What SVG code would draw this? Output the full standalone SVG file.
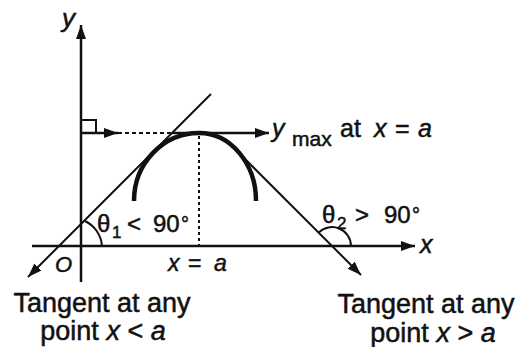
<svg xmlns="http://www.w3.org/2000/svg" width="520" height="347" viewBox="0 0 520 347">
<style>
  .ln{stroke:#111;fill:none;stroke-linecap:butt}
  .ax{stroke-width:2.5}
  .tg{stroke-width:2}
  .dash{stroke-width:2;stroke-dasharray:4 3}
  .dot{stroke-width:2;stroke-dasharray:3 3}
  .crv{stroke-width:4.5}
  text{font-family:"Liberation Sans",Arial,sans-serif;fill:#111;stroke:#111;stroke-width:0.5}
  .it{font-style:italic}
</style>
<defs>
  <marker id="ah" markerUnits="userSpaceOnUse" markerWidth="16" markerHeight="12" refX="14" refY="5" orient="auto">
    <path d="M0,0 L14,5 L0,10 z" fill="#111"/>
  </marker>
</defs>
<rect width="520" height="347" fill="#fff"/>

<g id="connectors">
  <!-- axes -->
  <line class="ln ax" x1="81" y1="282" x2="81" y2="25" marker-end="url(#ah)"/>
  <line class="ln ax" x1="32" y1="246" x2="415" y2="246" marker-end="url(#ah)"/>
  <!-- right angle mark -->
  <path class="ln" stroke-width="2" d="M81,120 H96 V133"/>
  <!-- horizontal line at y max -->
  <line class="ln ax" x1="81" y1="133" x2="118" y2="133" marker-end="url(#ah)"/>
  <line class="ln dash" x1="118" y1="133" x2="172" y2="133"/>
  <line class="ln ax" x1="172" y1="133" x2="269" y2="133" marker-end="url(#ah)"/>
  <!-- dotted vertical at x = a -->
  <line class="ln dot" x1="199" y1="136" x2="199" y2="246"/>
  <!-- tangents -->
  <line class="ln tg" x1="211" y1="94" x2="28" y2="277" marker-end="url(#ah)"/>
  <line class="ln tg" x1="236" y1="150" x2="361" y2="275" marker-end="url(#ah)"/>
  <!-- angle arcs -->
  <path class="ln" stroke-width="2" d="M102,246 A30,30 0 0 0 85,221"/>
  <path class="ln" stroke-width="2" d="M351,246 A19,19 0 0 0 318.6,232.6"/>
</g>

<g id="curve">
  <path class="ln crv" d="M134,201 A65,68 0 0 1 199,133 A57,68 0 0 1 256,201"/>
</g>

<g id="label-y-axis"><text class="it" x="62" y="27" font-size="26">y</text></g>
<g id="label-x-axis"><text class="it" x="420" y="253" font-size="25">x</text></g>
<g id="label-origin"><text class="it" x="55" y="272" font-size="22">O</text></g>

<g id="label-ymax">
  <text font-size="25"><tspan class="it" x="272" y="137">y</tspan><tspan x="292" y="146" font-size="21">max</tspan><tspan x="340" y="137">at</tspan><tspan class="it" x="374" y="137">x</tspan><tspan x="395" y="137">=</tspan><tspan class="it" x="418" y="137">a</tspan></text>
</g>

<g id="label-xa">
  <text font-size="23"><tspan class="it" x="168" y="271">x</tspan><tspan x="188" y="271">=</tspan><tspan class="it" x="214" y="271">a</tspan></text>
</g>

<g id="label-theta1">
  <text font-size="24"><tspan x="97" y="232">θ</tspan><tspan x="112" y="238" font-size="17">1</tspan><tspan x="127" y="232">&lt;</tspan><tspan x="153" y="232">90</tspan><tspan x="181" y="231" font-size="20">°</tspan></text>
</g>

<g id="label-theta2">
  <text font-size="24"><tspan x="322" y="223">θ</tspan><tspan x="337" y="229" font-size="17">2</tspan><tspan x="355" y="223">&gt;</tspan><tspan x="384" y="223">90</tspan><tspan x="412" y="222" font-size="20">°</tspan></text>
</g>

<g id="label-left-tangent">
  <text x="102" y="312" font-size="27" text-anchor="middle">Tangent at any</text>
  <text x="103" y="340" font-size="27" text-anchor="middle">point <tspan class="it">x</tspan> &lt; <tspan class="it">a</tspan></text>
</g>

<g id="label-right-tangent">
  <text x="426" y="313" font-size="27" text-anchor="middle">Tangent at any</text>
  <text x="433" y="342" font-size="27" text-anchor="middle">point <tspan class="it">x</tspan> &gt; <tspan class="it">a</tspan></text>
</g>
</svg>
